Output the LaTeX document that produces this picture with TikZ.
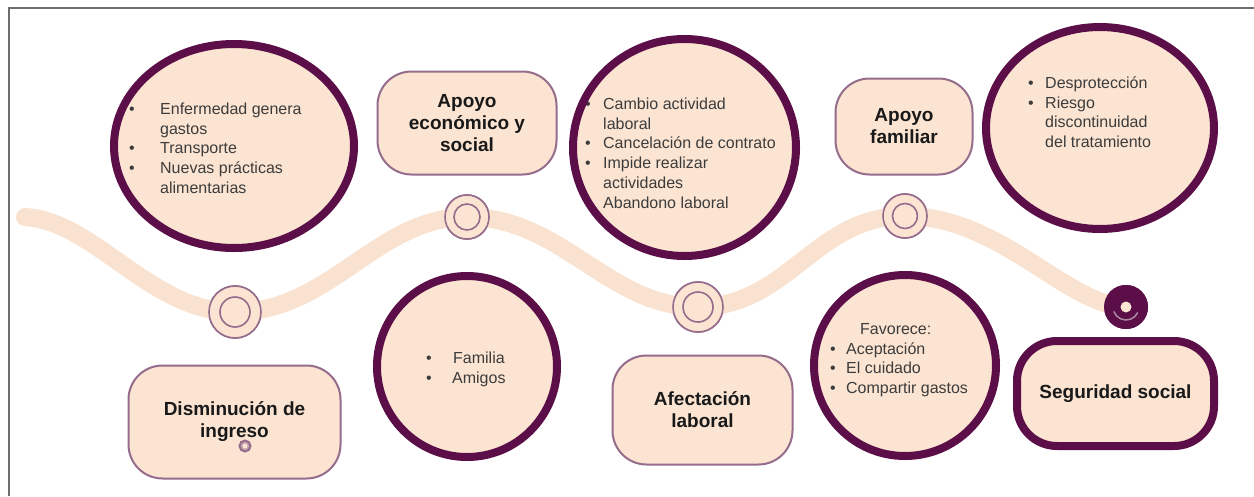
\documentclass[tikz,border=0pt]{standalone}
\usepackage{fontspec}
\setmainfont{Liberation Sans}
\usetikzlibrary{shapes.geometric}
\definecolor{dpur}{RGB}{92,14,72}
\definecolor{lpur}{RGB}{150,108,140}
\definecolor{peach}{RGB}{252,228,210}
\definecolor{bandc}{RGB}{250,226,208}
\definecolor{txt}{RGB}{60,60,60}
\definecolor{btxt}{RGB}{25,25,25}
\definecolor{framec}{RGB}{110,110,110}
\newcommand\fst{\rule{0pt}{14pt}}
\newcommand\bul[1]{\makebox[#1][l]{•}}
\begin{document}
\begin{tikzpicture}[x=1pt,y=-1pt,
  ringm/.style={circle, draw=lpur, line width=1.6pt, fill=peach, inner sep=0pt, minimum size=#1},
  cfill/.style={ellipse, fill=peach, inner sep=0pt},
  cborder/.style={draw=dpur, line width=8pt},
  ctext/.style={font=\fontsize{16}{19.8}\selectfont, align=left, inner sep=0pt, text=txt, anchor=north west},
  tbox/.style={rectangle, rounded corners=34pt, draw=lpur, line width=2pt, fill=peach, inner sep=0pt,
    font=\bfseries\fontsize{19}{22}\selectfont, text=btxt, align=center},
  sbox/.style={tbox, draw=dpur, line width=8pt, rounded corners=40pt},
  bandline/.style={draw=bandc, line width=18pt, line cap=round}
]
\fill[white] (0,0) rectangle (1254,496);
\useasboundingbox (0,0) rectangle (1254,496);
\draw[framec, line width=1.2pt] (9,496) -- (9,8) -- (1254,8);

% markers positions
\coordinate (w0) at (25,217);
\node[ringm=52pt] (m1) at (235,312) {};
\node[ringm=44pt] (m2) at (467,217) {};
\node[ringm=50pt] (m3) at (698,307) {};
\node[ringm=44pt] (m4) at (905,216) {};
\node[circle, fill=dpur, inner sep=0pt, minimum size=44pt] (m5) at (1126,307) {};

% wave band
\path[bandline] (w0) .. controls +(70,4) and +(-85,0) .. (m1.center)
  .. controls +(95,0) and +(-90,0) .. (m2.center)
  .. controls +(95,0) and +(-90,0) .. (m3.center)
  .. controls +(90,0) and +(-90,0) .. (m4.center)
  .. controls +(95,0) and +(-60,-2) .. (m5.center);

% redraw markers on top of the band
\node[ringm=52pt] (m1b) at (m1) {};
\draw[lpur, line width=1.6pt] (m1b.center) circle (15);
\node[ringm=44pt] (m2b) at (m2) {};
\draw[lpur, line width=1.6pt] (m2b.center) circle (13);
\node[ringm=50pt] (m3b) at (m3) {};
\draw[lpur, line width=1.6pt] (m3b.center) circle (15);
\node[ringm=44pt] (m4b) at (m4) {};
\draw[lpur, line width=1.6pt] (m4b.center) circle (12.5);
\node[circle, fill=dpur, inner sep=0pt, minimum size=44pt] (m5b) at (m5) {};
\draw[lpur!80!white, line width=1.5pt] (m5b.center) ++(25:13) arc[start angle=25, end angle=160, radius=13];
\fill[peach] (m5b.center) circle (5.5);

% boxes
\node[tbox, minimum width=212pt, minimum height=113pt] (b1) at (234.5,422) {Disminución de\\ingreso};
\node[circle, draw=lpur, line width=2pt, fill=lpur!55!peach, inner sep=0pt, minimum size=11pt] (sm) at (245,446) {};
\fill[peach] (sm.center) circle (2.5);
\node[tbox, minimum width=179pt, minimum height=103pt] (b2) at (467,123) {Apoyo\\económico y\\social};
\node[tbox, minimum width=180pt, minimum height=109pt] (b3) at (702.5,410) {Afectación\\laboral};
\node[tbox, minimum width=137pt, minimum height=96pt] (b4) at (904,126.5) {Apoyo\\familiar};
\node[sbox, minimum width=197pt, minimum height=105pt] (b5) at (1115.5,393.5) {Seguridad social};

% circle 1
\node[cfill, minimum width=240pt, minimum height=204pt] (c1) at (234,146) {};
\node[ctext] (t1) at (129,100) {\fst\bul{31pt}Enfermedad genera\\\hspace*{31pt}gastos\\\bul{31pt}Transporte\\\bul{31pt}Nuevas prácticas\\\hspace*{31pt}alimentarias};
\draw[cborder] (c1.center) ellipse [x radius=120, y radius=102];

% circle 2
\node[cfill, minimum width=180pt, minimum height=181pt] (c2) at (467,366.5) {};
\node[ctext] (t2) at (426,349) {\fst\bul{27pt}Familia\\\bul{26pt}Amigos};
\draw[cborder] (c2.center) ellipse [x radius=90, y radius=90.5];

% circle 3
\node[cfill, minimum width=223pt, minimum height=217pt] (c3) at (684.5,147.5) {};
\node[ctext] (t3) at (585,95) {\fst\bul{18pt}Cambio actividad\\\hspace*{18pt}laboral\\\bul{18pt}Cancelación de contrato\\\bul{18pt}Impide realizar\\\hspace*{18pt}actividades\\\bul{18pt}Abandono laboral};
\draw[cborder] (c3.center) ellipse [x radius=111.5, y radius=108.5];

% circle 4
\node[cfill, minimum width=182pt, minimum height=181pt] (c4) at (905,365.5) {};
\node[ctext] (t4) at (830,320) {\fst\hspace*{30pt}Favorece:\\\bul{16pt}Aceptación\\\bul{16pt}El cuidado\\\bul{16pt}Compartir gastos};
\draw[cborder] (c4.center) ellipse [x radius=91, y radius=90.5];

% circle 5
\node[cfill, minimum width=228pt, minimum height=202pt] (c5) at (1100,128) {};
\node[ctext] (t5) at (1028,74) {\fst\bul{17pt}Desprotección\\\bul{17pt}Riesgo\\\hspace*{17pt}discontinuidad\\\hspace*{17pt}del tratamiento};
\draw[cborder] (c5.center) ellipse [x radius=114, y radius=101];
\end{tikzpicture}
\end{document}
